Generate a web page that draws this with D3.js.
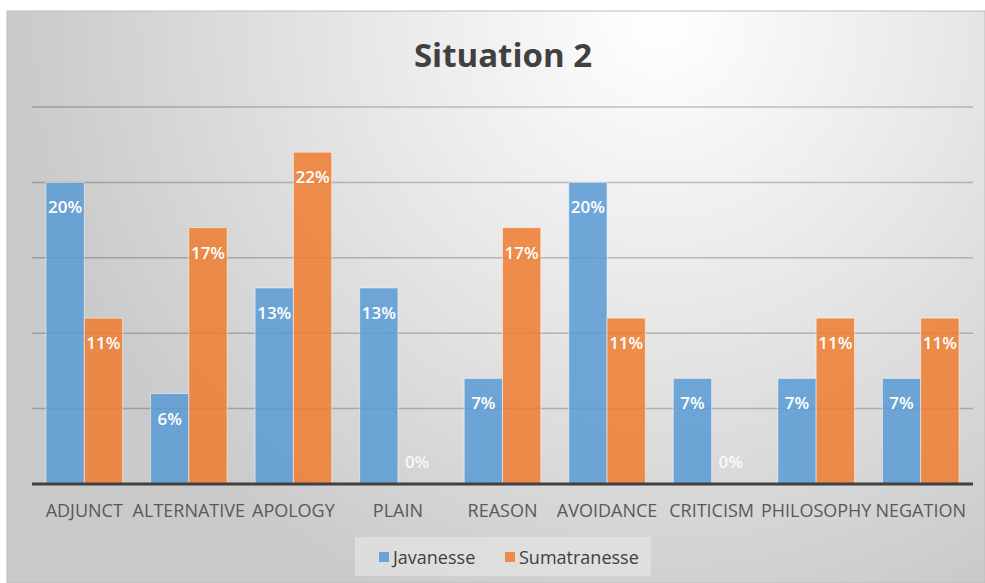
<!DOCTYPE html>
<html>
<head>
<meta charset="utf-8">
<script src="https://cdn.jsdelivr.net/npm/d3@7"></script>
<style>
  body { margin: 0; background: #fff; }
  text { font-family: "Open Sans", "Noto Sans", sans-serif; }
</style>
</head>
<body>
<div id="chart"></div>
<script>
// data
var categories = ["ADJUNCT", "ALTERNATIVE", "APOLOGY", "PLAIN", "REASON", "AVOIDANCE", "CRITICISM", "PHILOSOPHY", "NEGATION"];
var seriesNames = ["Javanesse", "Sumatranesse"];
var javanesse = [20, 6, 13, 13, 7, 20, 7, 7, 7];
var sumatranesse = [11, 17, 22, 0, 17, 11, 0, 11, 11];
var yTicks = [5, 10, 15, 20, 25];
var colors = ["#5B9BD5", "#ED7D31"];

var W = 985, H = 583;
var margin = {top: 107, right: 12, bottom: 99, left: 32};

var svg = d3.select("#chart")
  .append("svg")
    .attr("width", W)
    .attr("height", H);

// background gradient
var defs = svg.append("defs");
var grad = defs.append("radialGradient")
  .attr("id", "bg")
  .attr("gradientUnits", "userSpaceOnUse")
  .attr("cx", 660).attr("cy", 20).attr("r", 640);
grad.append("stop").attr("offset", "0%").attr("stop-color", "#ffffff");
grad.append("stop").attr("offset", "45%").attr("stop-color", "#e8e8e8");
grad.append("stop").attr("offset", "100%").attr("stop-color", "#cacaca");

svg.append("rect")
  .attr("x", 7).attr("y", 11)
  .attr("width", W - 7).attr("height", H - 11)
  .attr("fill", "url(#bg)")
  .attr("stroke", "#bdbdbd");

// scales
var x0 = d3.scaleBand()
  .domain(categories)
  .range([margin.left, W - margin.right]);

var x1 = d3.scaleBand()
  .domain(seriesNames)
  .range([0, x0.bandwidth()])
  .paddingOuter(0.365);

var y = d3.scaleLinear()
  .domain([0, 25])
  .range([H - margin.bottom, margin.top]);

// gridlines
svg.append("g")
  .selectAll("line")
  .data(yTicks)
  .enter()
  .append("line")
    .attr("x1", margin.left)
    .attr("x2", W - margin.right)
    .attr("y1", function(d) { return y(d); })
    .attr("y2", function(d) { return y(d); })
    .attr("stroke", "#000")
    .attr("stroke-opacity", 0.22)
    .attr("stroke-width", 1.5);

// title
svg.append("text")
  .attr("x", 503)
  .attr("y", 67)
  .attr("text-anchor", "middle")
  .attr("font-size", 33)
  .attr("font-weight", "bold")
  .attr("fill", "#404040")
  .text("Situation 2");

// bars
var rows = categories.map(function(c, i) {
  return {cat: c, vals: [javanesse[i], sumatranesse[i]]};
});

var groups = svg.append("g")
  .selectAll("g")
  .data(rows)
  .enter()
  .append("g")
    .attr("transform", function(d) { return "translate(" + x0(d.cat) + ",0)"; });

groups.selectAll("rect")
  .data(function(d) { return d.vals.map(function(v, k) { return {s: k, v: v}; }); })
  .enter()
  .append("rect")
    .attr("x", function(d) { return x1(seriesNames[d.s]); })
    .attr("y", function(d) { return y(d.v); })
    .attr("width", x1.bandwidth())
    .attr("height", function(d) { return y(0) - y(d.v); })
    .attr("fill", function(d) { return colors[d.s]; })
    .attr("fill-opacity", 0.86)
    .attr("stroke", "#fff")
    .attr("stroke-opacity", 0.5)
    .attr("stroke-width", 1);

// value labels
groups.selectAll("text")
  .data(function(d) { return d.vals.map(function(v, k) { return {s: k, v: v}; }); })
  .enter()
  .append("text")
    .attr("x", function(d) { return x1(seriesNames[d.s]) + x1.bandwidth() / 2; })
    .attr("y", function(d) { return d.v === 0 ? y(0) - 16 : y(d.v) + 31; })
    .attr("text-anchor", "middle")
    .attr("font-size", 17)
    .attr("font-weight", 600)
    .attr("fill", "#fff")
    .attr("fill-opacity", function(d) { return d.v === 0 ? 0.85 : 1; })
    .text(function(d) { return Math.round(d.v) + "%"; });

// baseline
svg.append("line")
  .attr("x1", margin.left)
  .attr("x2", W - margin.right)
  .attr("y1", y(0))
  .attr("y2", y(0))
  .attr("stroke", "#404040")
  .attr("stroke-width", 3);

// category labels
svg.append("g")
  .selectAll("text")
  .data(categories)
  .enter()
  .append("text")
    .attr("x", function(d) { return x0(d) + x0.bandwidth() / 2; })
    .attr("y", 517)
    .attr("text-anchor", "middle")
    .attr("font-size", 18)
    .attr("fill", "#595959")
    .text(function(d) { return d; });

// legend
var legend = svg.append("g");
legend.append("rect")
  .attr("x", 355).attr("y", 537)
  .attr("width", 296).attr("height", 39)
  .attr("fill", "#e4e4e4")
  .attr("fill-opacity", 0.7);

var legendX = [379, 505];
seriesNames.forEach(function(s, i) {
  legend.append("rect")
    .attr("x", legendX[i]).attr("y", 552)
    .attr("width", 10).attr("height", 10)
    .attr("fill", colors[i])
    .attr("fill-opacity", 0.86);
  legend.append("text")
    .attr("x", legendX[i] + 14)
    .attr("y", 564)
    .attr("font-size", 18)
    .attr("fill", "#404040")
    .text(s);
});
</script>
</body>
</html>
